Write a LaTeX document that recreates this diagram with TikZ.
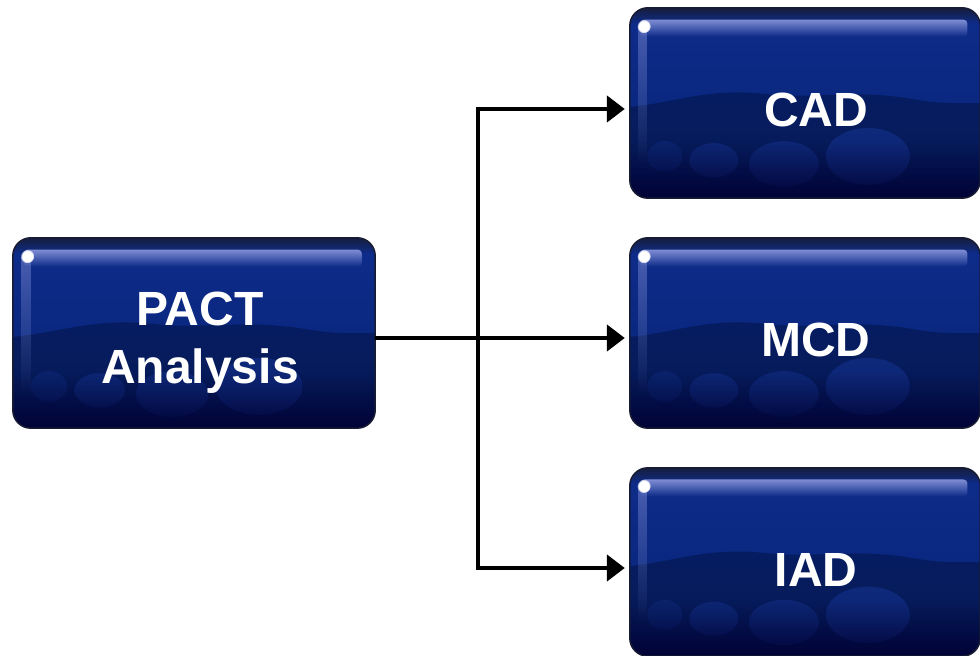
\documentclass[tikz,border=0pt]{standalone}
\usepackage{fontspec}
\setmainfont{Liberation Sans}
\usetikzlibrary{arrows.meta,calc,fadings}
\definecolor{boxtop}{RGB}{14,44,138}
\definecolor{boxmid}{RGB}{10,40,128}
\definecolor{boxbot}{RGB}{10,26,78}
\definecolor{boxlow}{RGB}{6,26,88}
\definecolor{blob}{RGB}{22,54,150}
\definecolor{shine}{RGB}{140,152,222}
\definecolor{edge}{RGB}{24,28,50}
\tikzset{
  gboxstyle/.style={rectangle, rounded corners=18pt, inner sep=0pt,
    top color=boxtop, bottom color=boxbot, middle color=boxmid},
  gtext/.style={text=white, font=\fontsize{48}{58}\selectfont\bfseries, align=center},
  arr/.style={line width=4.5pt, line join=miter, -{Triangle[length=18pt,width=26pt]}},
}
\newcommand\gbox[7]{%
  \node[gboxstyle, minimum width=#4, minimum height=#5] (#1) at (#2,#3) {};
  \begin{scope}
    \clip[rounded corners=18pt] (#1.south west) rectangle (#1.north east);
    \begin{scope}[shift={(#1.south west)}, x=#4, y=#5]
      % lower dark "water" area with wavy horizon
      \fill[boxlow, opacity=0.8] (0,0) -- (0,0.48)
        .. controls (0.12,0.50) and (0.22,0.58) .. (0.38,0.55)
        .. controls (0.52,0.52) and (0.62,0.57) .. (0.78,0.53)
        .. controls (0.88,0.50) .. (1,0.50) -- (1,0) -- cycle;
      % lighter blobs
      \fill[blob, opacity=0.45] (0.24,0.20) ellipse (0.07 and 0.09);
      \fill[blob, opacity=0.45] (0.44,0.18) ellipse (0.10 and 0.12);
      \fill[blob, opacity=0.5] (0.68,0.22) ellipse (0.12 and 0.15);
      \fill[blob, opacity=0.3] (0.10,0.22) ellipse (0.05 and 0.08);
      % bottom dark
      \fill[black!80!blue, opacity=0.9, path fading=north] (0,0) rectangle (1,0.30);
      % top dark rim
      \fill[edge, opacity=0.85, path fading=south] (0,0.92) rectangle (1,1);
      % highlight band
      \fill[shine, opacity=0.9, path fading=south, rounded corners=4pt] (0.03,0.85) rectangle (0.965,0.94);
      % left vertical strip
      \fill[shine, opacity=0.45, path fading=south] (0.022,0.18) rectangle (0.05,0.9);
      % white spot
      \fill[white, path fading=circle with fuzzy edge 20 percent] (0.04,0.905) circle (7pt);
    \end{scope}
  \end{scope}
  \draw[rounded corners=18pt, draw=edge, line width=1.5pt] (#1.south west) rectangle (#1.north east);
  \node[gtext] (#1-label) at ($(#1.center)+(#7)$) {#6};
}
\begin{document}
\begin{tikzpicture}[x=1pt,y=1pt]
  \useasboundingbox[fill=white] (0,0) rectangle (980,656);
  \gbox{pact}{194}{323}{362pt}{190pt}{PACT\\Analysis}{6,-10}
  \gbox{cad}{805}{553}{350pt}{190pt}{CAD}{11,-7}
  \gbox{mcd}{805}{323}{350pt}{190pt}{MCD}{11,-7}
  \gbox{iad}{805}{94}{350pt}{188pt}{IAD}{11,-8}
  \coordinate (split) at (478,318);
  \draw[arr] ([yshift=-5pt]pact.east) -- ([yshift=-5pt,xshift=-5pt]mcd.west);
  \draw[arr] (split) |- ([yshift=-6pt,xshift=-5pt]cad.west);
  \draw[arr] (split) |- ([yshift=-6pt,xshift=-5pt]iad.west);
\end{tikzpicture}
\end{document}
